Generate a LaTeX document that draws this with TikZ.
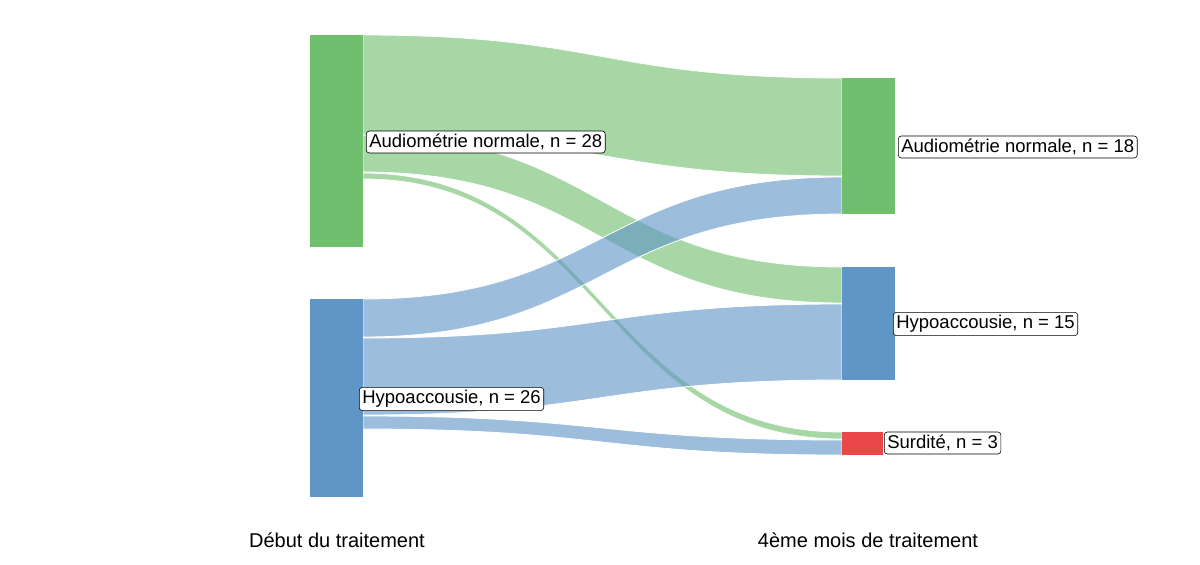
\documentclass[tikz,border=0pt]{standalone}
\usepackage{fontspec}
\setmainfont{Liberation Sans}
\definecolor{gbar}{RGB}{112,191,110}
\definecolor{bbar}{RGB}{96,150,199}
\definecolor{rbar}{RGB}{232,72,72}
\tikzset{
  flowg/.style={fill=gbar,fill opacity=0.62,draw=white,line width=0.8pt},
  flowb/.style={fill=bbar,fill opacity=0.62,draw=white,line width=0.8pt},
  lab/.style={draw=black,fill=white,rounded corners=3pt,inner sep=3pt,font=\fontsize{18.5}{20}\selectfont,line width=0.6pt},
  axl/.style={font=\fontsize{20}{22}\selectfont}
}
\newcommand{\flow}[5]{\path[#1] (363,#2) .. controls (602,#2) and (602,#4) .. (842,#4) -- (842,#5) .. controls (602,#5) and (602,#3) .. (363,#3) -- cycle;}
\begin{document}
\begin{tikzpicture}[x=1pt,y=-1pt]
\useasboundingbox (0,0) rectangle (1200,565);
% flows
\flow{flowg}{35}{135}{78}{176}
\flow{flowg}{135}{172}{267}{303}
\flow{flowg}{173}{179}{432}{439}
\flow{flowb}{299}{337}{177}{214}
\flow{flowb}{338}{415}{304}{380}
\flow{flowb}{416}{429}{440}{455}
% bars
\fill[gbar] (310,35) rectangle (363,247);
\fill[bbar] (310,299) rectangle (363,497);
\fill[gbar] (842,78) rectangle (895,214);
\fill[bbar] (842,267) rectangle (895,380);
\fill[rbar] (842,432) rectangle (883,455);
% labels
\node[lab,anchor=west] (l1) at (366,142) {Audiométrie normale, n = 28};
\node[lab,anchor=west] (l2) at (359,399) {Hypoaccousie, n = 26};
\node[lab,anchor=west] (r1) at (898,147) {Audiométrie normale, n = 18};
\node[lab,anchor=west] (r2) at (893,324) {Hypoaccousie, n = 15};
\node[lab,anchor=west] (r3) at (884,443) {Surdité, n = 3};
\node[axl] (a1) at (337,540) {Début du traitement};
\node[axl] (a2) at (868,540) {4ème mois de traitement};
\end{tikzpicture}
\end{document}
